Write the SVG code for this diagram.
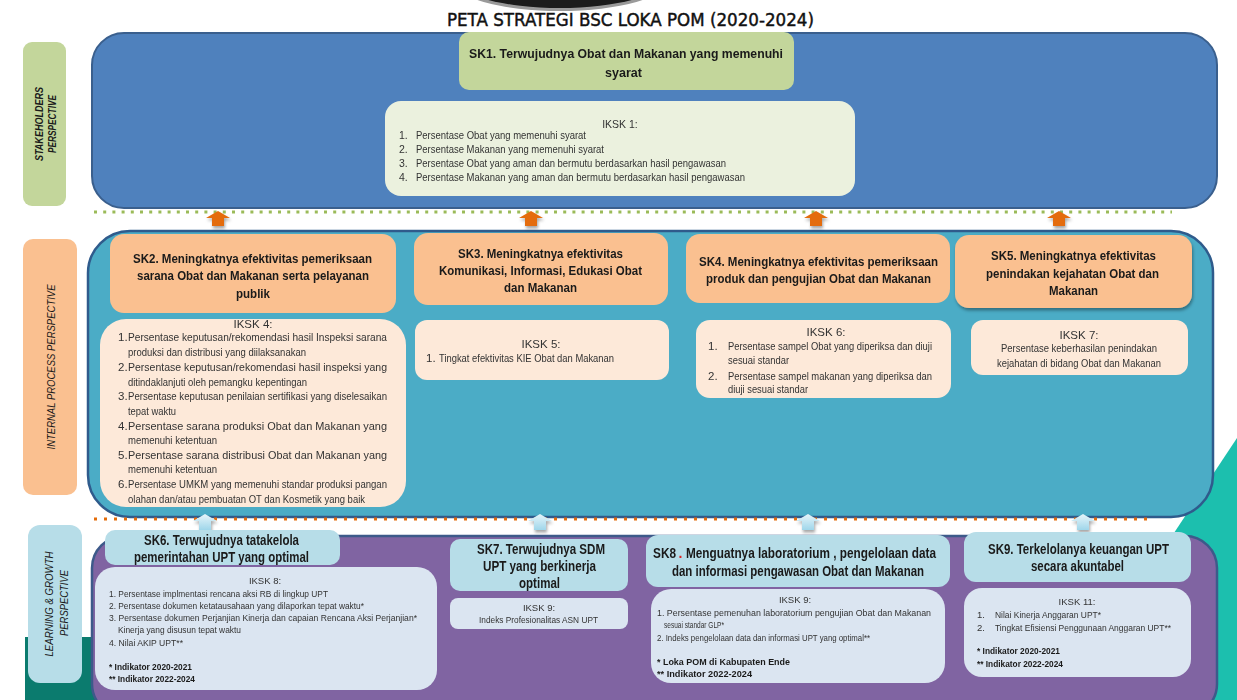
<svg xmlns="http://www.w3.org/2000/svg" xmlns:xlink="http://www.w3.org/1999/xlink" width="1237" height="700" viewBox="0 0 1237 700">
<style>
.sk{font-family:"Liberation Sans",Arial,sans-serif;font-weight:bold;font-size:13.5px;fill:#1a1a1a}
.skl{font-family:"Liberation Sans",Arial,sans-serif;font-weight:bold;font-size:14px;fill:#1a1a1a}
.ik{font-family:"Liberation Sans",Arial,sans-serif;font-size:11.5px;fill:#333}
.ik1{font-family:"Liberation Sans",Arial,sans-serif;font-size:10.5px;fill:#333}
.il{font-family:"Liberation Sans",Arial,sans-serif;font-size:9.5px;fill:#333}
.ilb{font-family:"Liberation Sans",Arial,sans-serif;font-size:9.5px;font-weight:bold;fill:#1a1a1a}
.lab{font-family:"Liberation Sans",Arial,sans-serif;font-style:italic;font-size:11px;fill:#1a1a1a}
.c{text-anchor:middle}
</style>
<defs>
<linearGradient id="lb" x1="0" y1="0" x2="0" y2="1">
<stop offset="0" stop-color="#e6f5fa"/><stop offset="1" stop-color="#9fd6ea"/>
</linearGradient>
<filter id="sh" x="-10%" y="-10%" width="120%" height="130%">
<feDropShadow dx="1" dy="2.5" stdDeviation="1.8" flood-color="#000" flood-opacity="0.35"/>
</filter>
<path id="oa" d="M-12,7 L0,0 L12,7 L6,7 L6,15 L-6,15 L-6,7 Z" fill="#e46c0a"/>
<path id="ba" d="M-12,7 L0,0 L12,7 L6,7 L6,16 L-6,16 L-6,7 Z" fill="url(#lb)"/>
</defs>

<rect width="1237" height="700" fill="#ffffff"/>

<g id="background">
<ellipse cx="560" cy="-20" rx="108" ry="31" fill="#9a9a9a"/>
<ellipse cx="560" cy="-21" rx="104" ry="29" fill="#1c1c1c"/>
<polygon points="1237,438 1166,545 1166,700 1237,700" fill="#1cbfae"/>
<rect x="25" y="637" width="70" height="63" fill="#0b7b6e"/>
<text x="447" y="26" textLength="367" lengthAdjust="spacingAndGlyphs" font-family="'DejaVu Sans',Verdana,sans-serif" font-size="17.5px" fill="#111" stroke="#111" stroke-width="0.45">PETA STRATEGI BSC LOKA POM (2020-2024)</text>
</g>

<g id="bands">
<rect id="band-stakeholders" x="92" y="33" width="1125" height="175" rx="32" fill="#4f81bd" stroke="#3a5f8d" stroke-width="2"/>
<rect id="band-internal" x="88" y="231" width="1125" height="286" rx="42" fill="#4bacc6" stroke="#2f5b8c" stroke-width="2.5"/>
<rect id="band-learning" x="92" y="536" width="1125" height="180" rx="32" fill="#8064a2" stroke="#3d5a8a" stroke-width="2.5"/>
</g>

<g id="perspective-labels">
<g id="label-stakeholders">
<rect x="23" y="42" width="43" height="164" rx="9" fill="#c3d69b"/>
<text class="lab c" font-weight="bold" transform="translate(43,124) rotate(-90)" font-size="10px" textLength="74" lengthAdjust="spacingAndGlyphs">STAKEHOLDERS</text>
<text class="lab c" font-weight="bold" transform="translate(56,124) rotate(-90)" font-size="10px" textLength="58" lengthAdjust="spacingAndGlyphs">PERSPECTIVE</text>
</g>
<g id="label-internal">
<rect x="23" y="239" width="54" height="256" rx="10" fill="#fac090"/>
<text class="lab c" transform="translate(55,367) rotate(-90)" textLength="165" lengthAdjust="spacingAndGlyphs">INTERNAL PROCESS PERSPECTIVE</text>
</g>
<g id="label-learning">
<rect x="28" y="525" width="54" height="158" rx="12" fill="#b7dde8"/>
<text class="lab c" transform="translate(53,604) rotate(-90)" textLength="105" lengthAdjust="spacingAndGlyphs">LEARNING &amp; GROWTH</text>
<text class="lab c" transform="translate(68,603) rotate(-90)" textLength="66" lengthAdjust="spacingAndGlyphs">PERSPECTIVE</text>
</g>
</g>

<g id="connectors">
<line x1="94" y1="212" x2="1172" y2="212" stroke="#9bbb59" stroke-width="3" stroke-dasharray="3 6.2"/>
<line x1="94" y1="519" x2="1150" y2="519" stroke="#e46c0a" stroke-width="3" stroke-dasharray="3 7"/>
<g filter="url(#sh)">
<use xlink:href="#oa" href="#oa" transform="translate(218,211)"/>
<use xlink:href="#oa" href="#oa" transform="translate(531,211)"/>
<use xlink:href="#oa" href="#oa" transform="translate(816,211)"/>
<use xlink:href="#oa" href="#oa" transform="translate(1059,211)"/>
<use xlink:href="#ba" href="#ba" transform="translate(205,514)"/>
<use xlink:href="#ba" href="#ba" transform="translate(540,514)"/>
<use xlink:href="#ba" href="#ba" transform="translate(808,514)"/>
<use xlink:href="#ba" href="#ba" transform="translate(1083,514)"/>
</g>
</g>

<g id="SK1">
<rect x="459" y="32" width="335" height="58" rx="10" fill="#c3d69b"/>
<text class="sk" x="469" y="58" textLength="314" lengthAdjust="spacingAndGlyphs">SK1. Terwujudnya Obat dan Makanan yang memenuhi</text>
<text class="sk" x="605" y="77" textLength="37" lengthAdjust="spacingAndGlyphs">syarat</text>
</g>
<g id="IKSK1">
<rect x="385" y="101" width="470" height="95" rx="16" fill="#ebf1de"/>
<text class="ik1 c" x="620" y="128">IKSK 1:</text>
<text class="ik1" x="399" y="139">1.</text>
<text class="ik1" x="416" y="139" textLength="170" lengthAdjust="spacingAndGlyphs">Persentase Obat yang memenuhi syarat</text>
<text class="ik1" x="399" y="153">2.</text>
<text class="ik1" x="416" y="153" textLength="188" lengthAdjust="spacingAndGlyphs">Persentase Makanan yang memenuhi syarat</text>
<text class="ik1" x="399" y="167">3.</text>
<text class="ik1" x="416" y="167" textLength="310" lengthAdjust="spacingAndGlyphs">Persentase Obat yang aman dan bermutu berdasarkan hasil pengawasan</text>
<text class="ik1" x="399" y="181">4.</text>
<text class="ik1" x="416" y="181" textLength="329" lengthAdjust="spacingAndGlyphs">Persentase Makanan yang aman dan bermutu berdasarkan hasil pengawasan</text>
</g>

<g id="SK2">
<rect x="110" y="234" width="286" height="79" rx="14" fill="#fac090"/>
<text class="sk" x="133" y="263" textLength="239" lengthAdjust="spacingAndGlyphs">SK2. Meningkatnya efektivitas pemeriksaan</text>
<text class="sk" x="137" y="280" textLength="232" lengthAdjust="spacingAndGlyphs">sarana Obat dan Makanan serta pelayanan</text>
<text class="sk" x="236" y="298" textLength="34" lengthAdjust="spacingAndGlyphs">publik</text>
</g>
<g id="IKSK4">
<rect x="100" y="319" width="306" height="188" rx="26" fill="#fde9d9"/>
<text class="ik c" x="253" y="328">IKSK 4:</text>
<text class="ik" x="118" y="341">1.</text>
<text class="ik" x="128" y="341" textLength="259" lengthAdjust="spacingAndGlyphs">Persentase keputusan/rekomendasi hasil Inspeksi sarana</text>
<text class="ik" x="128" y="356" textLength="178" lengthAdjust="spacingAndGlyphs">produksi dan distribusi yang diilaksanakan</text>
<text class="ik" x="118" y="371">2.</text>
<text class="ik" x="128" y="371" textLength="259" lengthAdjust="spacingAndGlyphs">Persentase keputusan/rekomendasi hasil inspeksi yang</text>
<text class="ik" x="128" y="386" textLength="179" lengthAdjust="spacingAndGlyphs">ditindaklanjuti oleh pemangku kepentingan</text>
<text class="ik" x="118" y="400">3.</text>
<text class="ik" x="128" y="400" textLength="259" lengthAdjust="spacingAndGlyphs">Persentase keputusan penilaian sertifikasi yang diselesaikan</text>
<text class="ik" x="128" y="415" textLength="48" lengthAdjust="spacingAndGlyphs">tepat waktu</text>
<text class="ik" x="118" y="430">4.</text>
<text class="ik" x="128" y="430" textLength="259" lengthAdjust="spacingAndGlyphs">Persentase sarana produksi Obat dan Makanan yang</text>
<text class="ik" x="128" y="444" textLength="89" lengthAdjust="spacingAndGlyphs">memenuhi ketentuan</text>
<text class="ik" x="118" y="459">5.</text>
<text class="ik" x="128" y="459" textLength="259" lengthAdjust="spacingAndGlyphs">Persentase sarana distribusi Obat  dan Makanan yang</text>
<text class="ik" x="128" y="473" textLength="89" lengthAdjust="spacingAndGlyphs">memenuhi ketentuan</text>
<text class="ik" x="118" y="488">6.</text>
<text class="ik" x="128" y="488" textLength="259" lengthAdjust="spacingAndGlyphs">Persentase UMKM yang memenuhi standar produksi pangan</text>
<text class="ik" x="128" y="503" textLength="237" lengthAdjust="spacingAndGlyphs">olahan dan/atau pembuatan OT dan Kosmetik yang baik</text>
</g>

<g id="SK3">
<rect x="414" y="233" width="254" height="72" rx="14" fill="#fac090"/>
<text class="sk" x="458" y="258" textLength="165" lengthAdjust="spacingAndGlyphs">SK3. Meningkatnya efektivitas</text>
<text class="sk" x="439" y="275" textLength="203" lengthAdjust="spacingAndGlyphs">Komunikasi, Informasi, Edukasi Obat</text>
<text class="sk" x="504" y="292" textLength="73" lengthAdjust="spacingAndGlyphs">dan Makanan</text>
</g>
<g id="IKSK5">
<rect x="415" y="320" width="254" height="60" rx="12" fill="#fde9d9"/>
<text class="ik c" x="541" y="348" font-size="11px">IKSK 5:</text>
<text class="ik" x="426" y="362" font-size="11px">1.</text>
<text class="ik" x="439" y="362" font-size="11px" textLength="175" lengthAdjust="spacingAndGlyphs">Tingkat efektivitas KIE Obat dan Makanan</text>
</g>

<g id="SK4">
<rect x="686" y="234" width="264" height="69" rx="14" fill="#fac090"/>
<text class="sk" x="699" y="266" textLength="239" lengthAdjust="spacingAndGlyphs">SK4. Meningkatnya efektivitas pemeriksaan</text>
<text class="sk" x="706" y="283" textLength="225" lengthAdjust="spacingAndGlyphs">produk dan pengujian Obat dan Makanan</text>
</g>
<g id="IKSK6">
<rect x="696" y="320" width="255" height="78" rx="14" fill="#fde9d9"/>
<text class="ik c" x="826" y="336" font-size="11px">IKSK 6:</text>
<text class="ik" x="708" y="350" font-size="11px">1.</text>
<text class="ik" x="728" y="350" font-size="11px" textLength="204" lengthAdjust="spacingAndGlyphs">Persentase sampel Obat yang diperiksa dan diuji</text>
<text class="ik" x="728" y="364" font-size="11px" textLength="61" lengthAdjust="spacingAndGlyphs">sesuai standar</text>
<text class="ik" x="708" y="380" font-size="11px">2.</text>
<text class="ik" x="728" y="380" font-size="11px" textLength="204" lengthAdjust="spacingAndGlyphs">Persentase sampel makanan yang diperiksa dan</text>
<text class="ik" x="728" y="393" font-size="11px" textLength="80" lengthAdjust="spacingAndGlyphs">diuji sesuai standar</text>
</g>

<g id="SK5">
<rect x="955" y="235" width="237" height="73" rx="14" fill="#fac090" filter="url(#sh)"/>
<text class="sk" x="991" y="260" textLength="165" lengthAdjust="spacingAndGlyphs">SK5. Meningkatnya efektivitas</text>
<text class="sk" x="986" y="278" textLength="173" lengthAdjust="spacingAndGlyphs">penindakan kejahatan Obat dan</text>
<text class="sk" x="1049" y="295" textLength="49" lengthAdjust="spacingAndGlyphs">Makanan</text>
</g>
<g id="IKSK7">
<rect x="971" y="320" width="217" height="55" rx="12" fill="#fde9d9"/>
<text class="ik c" x="1079" y="339" font-size="11px">IKSK 7:</text>
<text class="ik" x="1001" y="352" font-size="11px" textLength="156" lengthAdjust="spacingAndGlyphs">Persentase keberhasilan penindakan</text>
<text class="ik" x="997" y="367" font-size="11px" textLength="164" lengthAdjust="spacingAndGlyphs">kejahatan di bidang Obat dan Makanan</text>
</g>

<g id="SK6">
<rect x="105" y="530" width="235" height="35" rx="10" fill="#b7dde8"/>
<text class="skl" x="144" y="545" textLength="155" lengthAdjust="spacingAndGlyphs">SK6. Terwujudnya tatakelola</text>
<text class="skl" x="134" y="562" textLength="175" lengthAdjust="spacingAndGlyphs">pemerintahan UPT yang optimal</text>
</g>
<g id="IKSK8">
<rect x="95" y="567" width="342" height="123" rx="20" fill="#dbe5f1"/>
<text class="il c" x="265" y="584">IKSK 8:</text>
<text class="il" x="109" y="597" textLength="219" lengthAdjust="spacingAndGlyphs">1. Persentase implmentasi rencana aksi RB di lingkup UPT</text>
<text class="il" x="109" y="609" textLength="255" lengthAdjust="spacingAndGlyphs">2. Persentase dokumen ketatausahaan yang dilaporkan tepat waktu*</text>
<text class="il" x="109" y="621" textLength="308" lengthAdjust="spacingAndGlyphs">3. Persentase dokumen Perjanjian Kinerja dan capaian Rencana Aksi Perjanjian*</text>
<text class="il" x="118" y="633" textLength="123" lengthAdjust="spacingAndGlyphs">Kinerja yang disusun tepat waktu</text>
<text class="il" x="109" y="646" textLength="74" lengthAdjust="spacingAndGlyphs">4. Nilai AKIP UPT**</text>
<text class="ilb" x="109" y="670" textLength="83" lengthAdjust="spacingAndGlyphs">* Indikator 2020-2021</text>
<text class="ilb" x="109" y="682" textLength="86" lengthAdjust="spacingAndGlyphs">** Indikator 2022-2024</text>
</g>

<g id="SK7">
<rect x="450" y="539" width="178" height="52" rx="10" fill="#b7dde8"/>
<text class="skl" x="477" y="554" textLength="128" lengthAdjust="spacingAndGlyphs">SK7. Terwujudnya SDM</text>
<text class="skl" x="483" y="571" textLength="113" lengthAdjust="spacingAndGlyphs">UPT yang berkinerja</text>
<text class="skl" x="519" y="588" textLength="41" lengthAdjust="spacingAndGlyphs">optimal</text>
</g>
<g id="IKSK9-SDM">
<rect x="450" y="598" width="178" height="31" rx="8" fill="#dbe5f1"/>
<text class="il c" x="539" y="611">IKSK 9:</text>
<text class="il" x="479" y="623" textLength="119" lengthAdjust="spacingAndGlyphs">Indeks Profesionalitas ASN UPT</text>
</g>

<g id="SK8">
<rect x="646" y="535" width="304" height="52" rx="12" fill="#b7dde8"/>
<text class="skl" x="653" y="558" textLength="23" lengthAdjust="spacingAndGlyphs">SK8</text>
<text class="skl" x="678.5" y="558" style="fill:#e02020">.</text>
<text class="skl" x="686" y="558" textLength="250" lengthAdjust="spacingAndGlyphs">Menguatnya laboratorium , pengelolaan data</text>
<text class="skl" x="672" y="576" textLength="252" lengthAdjust="spacingAndGlyphs">dan informasi pengawasan Obat dan Makanan</text>
</g>
<g id="IKSK9-Lab">
<rect x="651" y="589" width="294" height="94" rx="20" fill="#dbe5f1"/>
<text class="il c" x="795" y="603">IKSK 9:</text>
<text class="il" x="657" y="616" textLength="274" lengthAdjust="spacingAndGlyphs">1. Persentase pemenuhan laboratorium pengujian Obat dan Makanan</text>
<text class="il" x="664" y="628" textLength="60" lengthAdjust="spacingAndGlyphs">sesuai standar GLP*</text>
<text class="il" x="657" y="641" textLength="213" lengthAdjust="spacingAndGlyphs">2. Indeks pengelolaan data dan informasi UPT yang optimal**</text>
<text class="ilb" x="657" y="665" textLength="133" lengthAdjust="spacingAndGlyphs">* Loka POM di Kabupaten Ende</text>
<text class="ilb" x="657" y="677" textLength="95" lengthAdjust="spacingAndGlyphs">** Indikator 2022-2024</text>
</g>

<g id="SK9">
<rect x="964" y="532" width="227" height="50" rx="12" fill="#b7dde8"/>
<text class="skl" x="988" y="554" textLength="181" lengthAdjust="spacingAndGlyphs">SK9. Terkelolanya keuangan UPT</text>
<text class="skl" x="1031" y="571" textLength="93" lengthAdjust="spacingAndGlyphs">secara akuntabel</text>
</g>
<g id="IKSK11">
<rect x="964" y="588" width="227" height="89" rx="18" fill="#dbe5f1"/>
<text class="il c" x="1077" y="605">IKSK 11:</text>
<text class="il" x="977" y="618">1.</text>
<text class="il" x="995" y="618" textLength="106" lengthAdjust="spacingAndGlyphs">Nilai Kinerja Anggaran UPT*</text>
<text class="il" x="977" y="631">2.</text>
<text class="il" x="995" y="631" textLength="176" lengthAdjust="spacingAndGlyphs">Tingkat Efisiensi Penggunaan Anggaran UPT**</text>
<text class="ilb" x="977" y="654" textLength="83" lengthAdjust="spacingAndGlyphs">* Indikator 2020-2021</text>
<text class="ilb" x="977" y="667" textLength="86" lengthAdjust="spacingAndGlyphs">** Indikator 2022-2024</text>
</g>
</svg>
